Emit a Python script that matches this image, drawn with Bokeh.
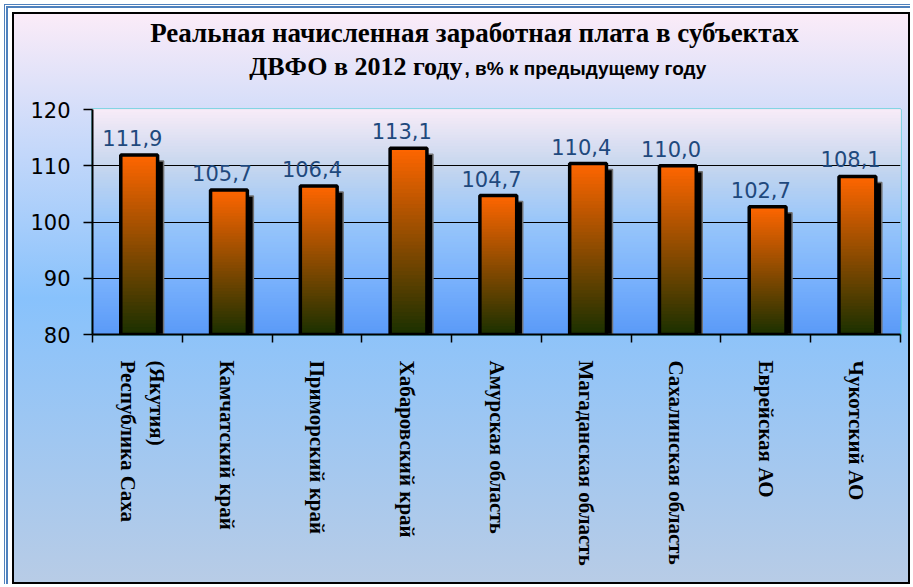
from bokeh.plotting import figure
from bokeh.models import FixedTicker, Label, ColumnDataSource
from bokeh.core.properties import value
from bokeh.embed import file_html
from bokeh.resources import INLINE

# ---- data ----
regions = ["Республика Саха\n(Якутия)", "Камчатский край", "Приморский край",
           "Хабаровский край", "Амурская область", "Магаданская область",
           "Сахалинская область", "Еврейская АО", "Чукотский АО"]
wages = [111.9, 105.7, 106.4, 113.1, 104.7, 110.4, 110.0, 102.7, 108.1]
value_labels = ["111,9", "105,7", "106,4", "113,1", "104,7", "110,4", "110,0", "102,7", "108,1"]
y_ticks = [80, 90, 100, 110, 120]
title_line1 = "Реальная начисленная заработная плата в субъектах"
title_line2a = "ДВФО в 2012 году"
title_line2b = ", в% к предыдущему году"

Y0, Y1 = 80, 120


def hex2rgb(h):
    h = h.lstrip("#")
    return tuple(int(h[i:i + 2], 16) for i in (0, 2, 4))


def lerp(c1, c2, t):
    a, b = hex2rgb(c1), hex2rgb(c2)
    return "#%02x%02x%02x" % tuple(int(round(a[i] + (b[i] - a[i]) * t)) for i in range(3))


def multi_stop(stops, t):
    for (t0, c0), (t1, c1) in zip(stops[:-1], stops[1:]):
        if t0 <= t <= t1:
            return lerp(c0, c1, (t - t0) / (t1 - t0) if t1 > t0 else 0)
    return stops[-1][1]


W, H = 910, 584
FL, FT, FR, FB = 92, 109, 900, 334  # frame edges in page pixels

p = figure(width=W, height=H, x_range=(-0.5, len(regions) - 0.5), y_range=(Y0, Y1),
           output_backend="svg", toolbar_location=None,
           min_border_left=FL, min_border_right=W - FR, min_border_top=FT, min_border_bottom=H - FB)

p.border_fill_color = None
p.background_fill_color = None
p.styles = {
    "background-image": "linear-gradient(to bottom, #fcecf8 2%, #88c2fc 51%, #b8cce6 100%)",
    "box-shadow": ("inset 4px 4px 0 0 white, inset 5px 5px 0 0 #4f81bd, inset 6px 6px 0 0 white, "
                   "inset 8px 8px 0 0 #4f81bd, inset 12px 12px 0 0 white, inset 14px 14px 0 0 black, "
                   "inset -2px -2px 0 0 black"),
}
p.outline_line_color = "#33cccc"
p.outline_line_width = 2

# plot-area gradient (decorative background, cumulative strips so no seams)
bg_stops = [(0.0, "#5a9af8"), (0.25, "#7ab2fc"), (0.5, "#98c6fa"), (0.75, "#c6d6ee"), (1.0, "#f8ecf8")]
n_bg = 80
bg_bottom = [Y0 + (Y1 - Y0) * k / n_bg for k in range(n_bg)]
bg_col = [multi_stop(bg_stops, (k + 0.5) / n_bg) for k in range(n_bg)]
p.quad(left=-0.5, right=len(regions) - 0.5, bottom=bg_bottom, top=Y1,
       fill_color=bg_col, line_color=None, level="image")

# grid
p.xgrid.visible = False
p.ygrid.ticker = FixedTicker(ticks=[90, 100, 110])
p.ygrid.grid_line_color = "black"
p.ygrid.grid_line_width = 1

# bars
xs = list(range(len(regions)))
half = 0.205
shift = 0.02
px_x = (len(regions)) / (FR - FL)
px_y = (Y1 - Y0) / (FB - FT)
dx_sh = 6 * px_x
dy_sh = 6 * px_y

# shadows
p.quad(left=[x - half + shift + dx_sh for x in xs], right=[x + half + shift + dx_sh for x in xs],
       bottom=Y0, top=[v - dy_sh for v in wages], fill_color="black", line_color="#707070", line_width=1.5)

# gradient fill for each bar (cumulative strips, drawn bottom to top)
n_bar = 50
gl, gr, gb, gt, gc = [], [], [], [], []
for x, v in zip(xs, wages):
    for k in range(n_bar):
        gl.append(x - half + shift)
        gr.append(x + half + shift)
        gb.append(Y0 + (v - Y0) * k / n_bar)
        gt.append(v)
        gc.append(lerp("#1a3000", "#ff6600", (k + 0.5) / n_bar))
p.quad(left=gl, right=gr, bottom=gb, top=gt, fill_color=gc, line_color=None)

# bar outlines
p.quad(left=[x - half + shift for x in xs], right=[x + half + shift for x in xs],
       bottom=Y0, top=wages, fill_color=None, line_color="black", line_width=3.5)

# value labels
src = ColumnDataSource(dict(x=xs, y=wages, t=value_labels))
p.text(x="x", y="y", text="t", source=src, text_align="center", text_baseline="bottom",
       x_offset=-5, y_offset=-9, text_color="#1f497d", text_font=value("DejaVu Sans"),
       text_font_size="21px")


# category axis (rotated labels; line order reversed so that the 2nd line sits to the right;
# shorter lines padded with no-break spaces, kept by a trailing zero-width joiner, so they look centred)
def axis_text(label):
    lines = label.split("\n")
    if len(lines) == 1:
        return label
    longest = max(len(s) for s in lines)
    padded = [s + ("\u00a0" * int(round((longest - len(s)) * 0.55)) + "\u200d" if len(s) < longest else "")
              for s in lines]
    return "\n".join(reversed(padded))


first_tick = 0.06
main_ticks = [first_tick] + xs[1:]
axis_labels = [axis_text(r) for r in regions]
overrides = {first_tick: axis_labels[0]}
overrides.update({i: axis_labels[i] for i in xs[1:]})
p.xaxis.ticker = FixedTicker(ticks=main_ticks, minor_ticks=[x - 0.5 for x in xs] + [len(xs) - 0.5])
p.xaxis.major_label_overrides = overrides
p.xaxis.major_label_orientation = "vertical"
p.xaxis.major_label_text_font = "Liberation Serif"
p.xaxis.major_label_text_font_style = "bold"
p.xaxis.major_label_text_font_size = "21px"
p.xaxis.major_label_text_color = "black"
p.xaxis.major_label_standoff = 18
p.xaxis.major_tick_out = 0
p.xaxis.major_tick_in = 0
p.xaxis.minor_tick_out = 8
p.xaxis.minor_tick_in = 0
p.xaxis.minor_tick_line_color = "black"
p.xaxis.minor_tick_line_width = 1.5
p.xaxis.axis_line_color = "black"
p.xaxis.axis_line_width = 2

p.yaxis.ticker = FixedTicker(ticks=y_ticks)
p.yaxis.major_label_text_font = "DejaVu Sans"
p.yaxis.major_label_text_font_size = "21px"
p.yaxis.major_label_text_color = "black"
p.yaxis.major_label_standoff = 13
p.yaxis.major_tick_out = 9
p.yaxis.major_tick_in = 0
p.yaxis.major_tick_line_width = 1.5
p.yaxis.minor_tick_line_color = None
p.yaxis.axis_line_color = "black"
p.yaxis.axis_line_width = 2

# titles: stacked side panels above the frame (first one nearest the frame)
p.add_layout(Label(x=462 - FL, y=FT - 74 + 8, x_units="screen", y_units="screen", text=title_line2a,
                   text_align="right", text_baseline="alphabetic", text_font="Liberation Serif",
                   text_font_style="bold", text_font_size="26px", text_color="black"), "above")
p.add_layout(Label(x=464 - FL, y=(FT - 31) - 74 + 8, x_units="screen", y_units="screen", text=title_line2b,
                   text_align="left", text_baseline="alphabetic", text_font="Liberation Sans",
                   text_font_style="bold", text_font_size="19px", text_color="black"), "above")
p.add_layout(Label(x=474 - FL, y=(FT - 31 - 19) - 41 + 9, x_units="screen", y_units="screen", text=title_line1,
                   text_align="center", text_baseline="alphabetic", text_font="Liberation Serif",
                   text_font_style="bold", text_font_size="27px", text_color="black"), "above")

open("out.html", "w").write(file_html(p, INLINE))
